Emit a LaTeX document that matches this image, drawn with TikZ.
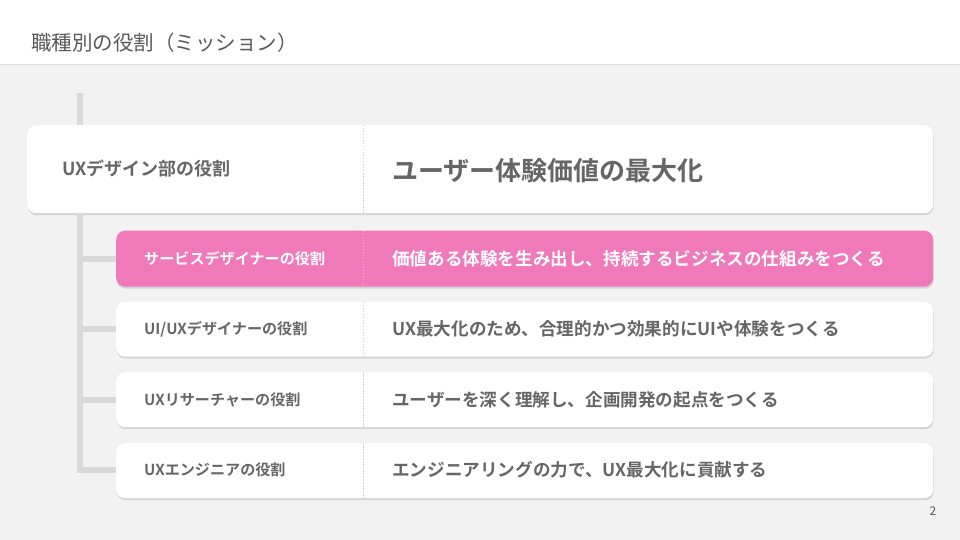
\documentclass[tikz,border=0pt]{standalone}
\usepackage{fontspec}
\setmainfont{Noto Sans CJK JP}[BoldFont={Noto Sans CJK JP Bold}]
\usetikzlibrary{shadows,calc}
\definecolor{bg}{HTML}{F2F2F2}
\definecolor{bar}{HTML}{D9D9D9}
\definecolor{txt}{HTML}{666666}
\definecolor{ttl}{HTML}{595959}
\definecolor{pinkbox}{HTML}{F079B9}
\definecolor{divc}{HTML}{CCCCCC}
\tikzset{
  card/.style={rounded corners=9pt, fill=white, draw=none,
    drop shadow={shadow xshift=0.5pt, shadow yshift=-2pt, opacity=0.12, fill=black}},
  pinkcard/.style={card, fill=pinkbox},
  divider/.style={draw=divc, dash pattern=on 1.5pt off 1.5pt, line width=0.6pt},
  trunk/.style={draw=bar, line width=6pt},
  lefttxt/.style={anchor=west, text=txt, font=\bfseries\fontsize{15.1}{17}\selectfont, inner sep=0},
  righttxt/.style={anchor=west, text=txt, font=\bfseries\fontsize{17.6}{20}\selectfont, inner sep=0},
}
\begin{document}
\begin{tikzpicture}[x=1pt,y=-1pt]
\useasboundingbox (0,0) rectangle (960,540);
% background
\fill[bg] (0,0) rectangle (960,540);
\fill[white, drop shadow={shadow xshift=0pt, shadow yshift=-1.5pt, opacity=0.08, fill=black}] (0,0) rectangle (960,64);
\node[anchor=west, text=ttl, font=\fontsize{20.5}{23}\selectfont, inner sep=0] (title) at (31,43) {職種別の役割（ミッション）};

% trunk
\coordinate (ttop) at (80,93);
\coordinate (t1) at (80,258.5);
\coordinate (t2) at (80,328.5);
\coordinate (t3) at (80,399.5);
\coordinate (t4) at (80,469.5);

% boxes
\node[card, minimum width=906pt, minimum height=88pt, anchor=north west] (b0) at (27,125) {};
\node[pinkcard, minimum width=817pt, minimum height=56pt, anchor=north west] (b1) at (116,230.5) {};
\node[card, minimum width=817pt, minimum height=55pt, anchor=north west] (b2) at (116,301.5) {};
\node[card, minimum width=817pt, minimum height=55pt, anchor=north west] (b3) at (116,372) {};
\node[card, minimum width=817pt, minimum height=55pt, anchor=north west] (b4) at (116,443) {};

% connectors
\path[trunk, line cap=butt] (ttop) -- (b0.north west -| ttop);
\draw[trunk] (b0.south west -| ttop) -- ([yshift=-3pt]t4);
\draw[trunk] ([xshift=-3pt]t1) -- (t1 -| b1.west);
\draw[trunk] ([xshift=-3pt]t2) -- (t2 -| b2.west);
\draw[trunk] ([xshift=-3pt]t3) -- (t3 -| b3.west);
\draw[trunk] ([xshift=-3pt]t4) -- (t4 -| b4.west);

% dividers
\foreach \b in {b0,b1,b2,b3,b4} {
  \draw[divider] (363,0 |- \b.north) -- (363,0 |- \b.south);
}

% texts
\node[lefttxt, font=\bfseries\fontsize{18}{20}\selectfont] (l0) at (62,169) {UXデザイン部の役割};
\node[righttxt, font=\bfseries\fontsize{26}{29}\selectfont] (r0) at (392,171) {ユーザー体験価値の最大化};
\node[lefttxt, text=white] (l1) at (144,258.5) {サービスデザイナーの役割};
\node[righttxt, text=white] (r1) at (392,258.5) {価値ある体験を生み出し、持続するビジネスの仕組みをつくる};
\node[lefttxt] (l2) at (144,329) {UI/UXデザイナーの役割};
\node[righttxt] (r2) at (392,329) {UX最大化のため、合理的かつ効果的にUIや体験をつくる};
\node[lefttxt] (l3) at (144,399.5) {UXリサーチャーの役割};
\node[righttxt] (r3) at (392,399.5) {ユーザーを深く理解し、企画開発の起点をつくる};
\node[lefttxt] (l4) at (144,470) {UXエンジニアの役割};
\node[righttxt] (r4) at (392,470) {エンジニアリングの力で、UX最大化に貢献する};

\node[text=ttl, font=\fontsize{12}{14}\selectfont, inner sep=0] (pg) at (933,511) {2};
\end{tikzpicture}
\end{document}
